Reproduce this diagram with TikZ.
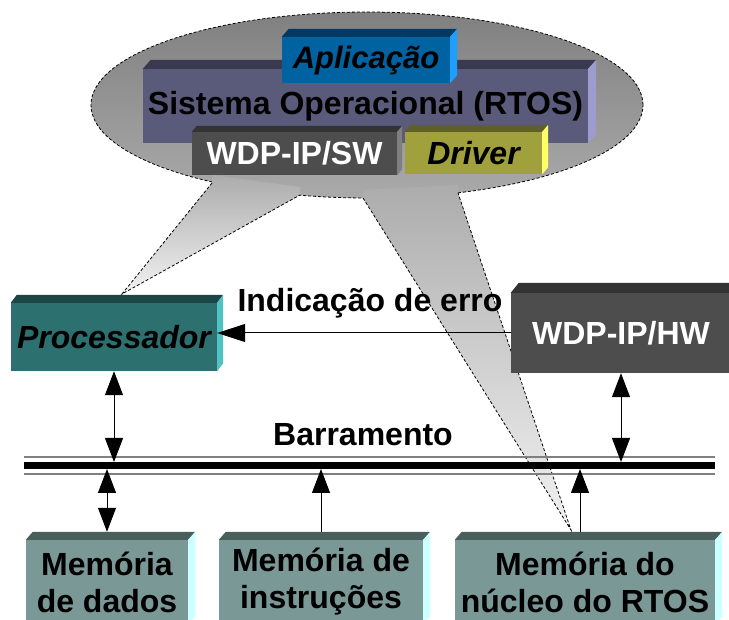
\documentclass[tikz,border=0pt]{standalone}
\usepackage{fontspec}
\setmainfont{Liberation Sans}
\usetikzlibrary{arrows.meta}
\definecolor{calltop}{HTML}{808080}
\definecolor{callbot}{HTML}{AAAAAA}
\definecolor{tailtop}{HTML}{ACACAC}
\definecolor{tailbot}{HTML}{F2F2F2}
\definecolor{procfront}{HTML}{2D7070}
\definecolor{proctop}{HTML}{1C4646}
\definecolor{procside}{HTML}{4FC2C2}
\definecolor{hwfront}{HTML}{4D4D4D}
\definecolor{hwtop}{HTML}{333333}
\definecolor{hwside}{HTML}{7F7F7F}
\definecolor{memfront}{HTML}{7A9896}
\definecolor{memtop}{HTML}{4A5E5C}
\definecolor{memside}{HTML}{CCFFFF}
\definecolor{osfront}{HTML}{5A5A7A}
\definecolor{ostop}{HTML}{39394F}
\definecolor{osside}{HTML}{9C9CCE}
\definecolor{appfront}{HTML}{0062A0}
\definecolor{apptop}{HTML}{003A63}
\definecolor{appside}{HTML}{1E9FFF}
\definecolor{drvfront}{HTML}{A0A03C}
\definecolor{drvtop}{HTML}{5F5F28}
\definecolor{drvside}{HTML}{FFFF66}
\tikzset{
  lbl/.style={font=\bfseries\fontsize{32}{37}\selectfont},
  slab/.style={lbl, fill=#1, inner sep=0pt, align=center},
  outline/.style={draw=black, line width=0.8pt, dash pattern=on 3pt off 2pt},
  link/.style={draw=black, line width=1pt},
  both/.style={link, {Triangle[length=24pt,width=18pt]}-{Triangle[length=24pt,width=18pt]}},
  tobus/.style={link, -{Triangle[length=24pt,width=18pt]}},
  busline/.style={draw=black, line width=7pt},
  busrail/.style={draw=black!50, line width=1.5pt}
}
% top and side faces of a block: node, dx, dy, top colour, side colour
\newcommand{\slabfaces}[5]{%
  \fill[#4] (#1.north west) -- ++(#2,-#3) -- ([shift={(#2,-#3)}]#1.north east) -- (#1.north east) -- cycle;
  \fill[#5] (#1.north east) -- ([shift={(#2,-#3)}]#1.north east) -- ([shift={(#2,-#3)}]#1.south east) -- (#1.south east) -- cycle;
}

\begin{document}
\begin{tikzpicture}[x=1pt,y=-1pt]
  \useasboundingbox (0,0) rectangle (729,620);

  % callout
  \coordinate (tipL) at (122,294);
  \coordinate (tipR) at (571,530);
  \shade[outline, top color=calltop, bottom color=callbot] (367,105) ellipse [x radius=276pt, y radius=93pt];
  \shade[top color=tailtop, bottom color=tailbot] (212,183) -- (tipL) -- (300,195) -- (300,187) -- (212,175) -- cycle;
  \shade[top color=tailtop, bottom color=tailbot] (363,198) -- (tipR) -- (458,193) -- (458,185) -- (363,190) -- cycle;
  \draw[outline] (212,183) -- (tipL) -- (300,195);
  \draw[outline] (363,198) -- (tipR) -- (458,193);

  \node[slab=osfront, minimum width=445pt, minimum height=74pt] (os) at (365.5,106) {Sistema Operacional (RTOS)};
  \slabfaces{os}{8}{9}{ostop}{osside}
  \node[slab=appfront, minimum width=168pt, minimum height=46pt, font=\bfseries\itshape\fontsize{31}{36}\selectfont] (app) at (366,60) {Aplicação};
  \slabfaces{app}{7}{8}{apptop}{appside}
  \node[slab=hwfront, text=white, minimum width=205pt, minimum height=43pt] (sw) at (294.5,153.5) {WDP-IP/SW};
  \slabfaces{sw}{5}{6}{hwtop}{hwside}
  \node[slab=drvfront, minimum width=137pt, minimum height=42pt] (drv) at (473.5,153) {\itshape Driver};
  \slabfaces{drv}{6}{7}{drvtop}{drvside}

  % blocks
  \node[slab=procfront, minimum width=206pt, minimum height=68pt] (proc) at (114,337) {\itshape Processador};
  \slabfaces{proc}{6}{8}{proctop}{procside}
  \node[slab=hwfront, text=white, minimum width=220pt, minimum height=80pt] (hw) at (621,333) {WDP-IP/HW};
  \slabfaces{hw}{8}{10}{hwtop}{hwside}
  \node[slab=memfront, minimum width=162pt, minimum height=84pt] (dados) at (107,582) {Memória\\de dados};
  \slabfaces{dados}{7}{8}{memtop}{memside}
  \node[slab=memfront, minimum width=204pt, minimum height=84pt] (instr) at (321,582) {Memória de\\instruções};
  \slabfaces{instr}{7}{8}{memtop}{memside}
  \node[slab=memfront, minimum width=260pt, minimum height=84pt] (nuc) at (585,582) {Memória do\\núcleo do RTOS};
  \slabfaces{nuc}{7}{8}{memtop}{memside}

  % bus
  \coordinate (busL) at (24,465.5);
  \coordinate (busR) at (715,465.5);
  \coordinate (busT) at (24,462);
  \coordinate (busB) at (24,469);
  \draw[busrail] ([yshift=8.5pt]busL) -- ([yshift=8.5pt]busR);
  \draw[busrail] ([yshift=-8.5pt]busL) -- ([yshift=-8.5pt]busR);
  \draw[busline] (busL) -- (busR);
  \node[lbl, anchor=base] (barr) at (363,446) {Barramento};

  % connections
  \coordinate (dadosIn) at ([yshift=8pt]dados.north);
  \coordinate (instrIn) at ([yshift=8pt]instr.north);
  \coordinate (nucIn) at ([xshift=-5pt,yshift=8pt]nuc.north);
  \draw[both] (proc.south) -- (proc.south |- busT);
  \draw[both] (hw.south) -- (hw.south |- busT);
  \draw[both] (dadosIn) -- (dadosIn |- busB);
  \draw[tobus] (instrIn) -- (instrIn |- busB);
  \draw[tobus] (nucIn) -- (nucIn |- busB);
  \draw[link, -{Triangle[length=28pt,width=18pt]}] (hw.west) -- (hw.west -| proc.east);
  \node[lbl, anchor=base] (err) at (370,312) {Indicação de erro};
\end{tikzpicture}
\end{document}
